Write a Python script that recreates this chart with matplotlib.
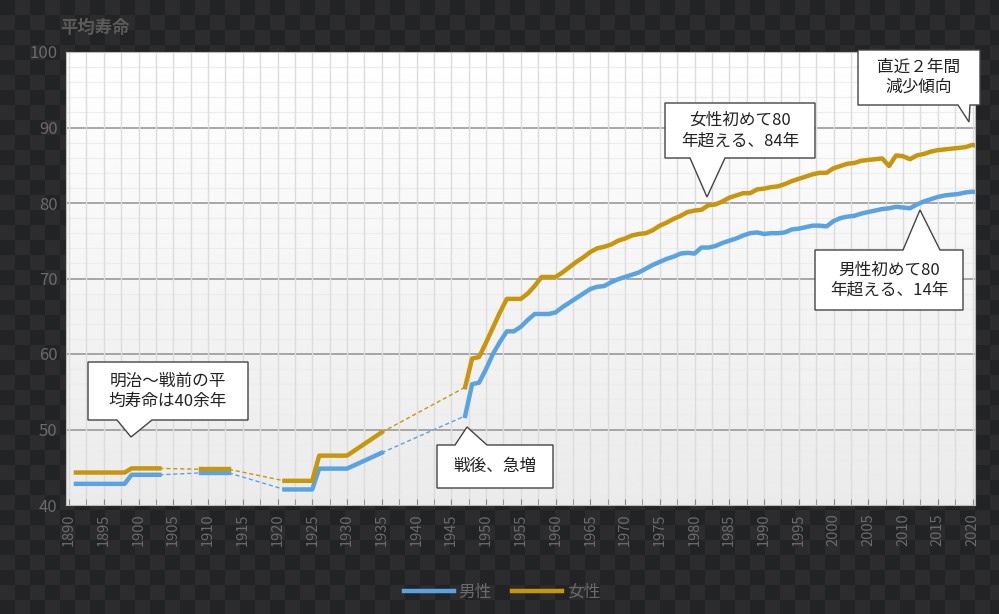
import numpy as np
import matplotlib
matplotlib.use("Agg")
import matplotlib.pyplot as plt
from matplotlib.patches import Polygon

plt.rcParams['font.family'] = ['Noto Sans CJK JP', 'DejaVu Sans']

# ---- data ----
pre_years = [1891, 1898, 1899, 1903, None, 1909, 1913, None, 1921, 1925, 1926, 1930, 1935]
male_pre  = [42.8, 42.8, 44.0, 44.0, None, 44.25, 44.25, None, 42.06, 42.06, 44.82, 44.82, 46.92]
female_pre= [44.3, 44.3, 44.85, 44.85, None, 44.73, 44.73, None, 43.2, 43.2, 46.54, 46.54, 49.63]

post_years = list(range(1947, 2022))
male_post = [51.8, 56.0, 56.2, 58.0, 60.0, 61.6, 63.0, 63.0, 63.6, 64.5, 65.3, 65.3, 65.3, 65.5,
             66.2, 66.8, 67.4, 68.0, 68.6, 68.9, 69.0, 69.5, 69.9, 70.2, 70.5, 70.8, 71.3, 71.8,
             72.2, 72.6, 72.9, 73.3, 73.4, 73.3, 74.1, 74.1, 74.3, 74.7, 75.0, 75.3, 75.7, 76.0,
             76.1, 75.9, 76.0, 76.0, 76.1, 76.5, 76.6, 76.8, 77.0, 77.0, 76.9, 77.6, 78.0, 78.2,
             78.3, 78.6, 78.8, 79.0, 79.2, 79.3, 79.5, 79.4, 79.3, 79.8, 80.2, 80.5, 80.8, 81.0,
             81.1, 81.2, 81.4, 81.5, 81.4]
female_post = [55.6, 59.4, 59.6, 61.5, 63.5, 65.5, 67.3, 67.3, 67.3, 68.0, 69.0, 70.2, 70.2, 70.2,
               70.8, 71.5, 72.2, 72.8, 73.5, 74.0, 74.2, 74.5, 75.0, 75.3, 75.7, 75.9, 76.0, 76.4,
               77.0, 77.4, 77.9, 78.3, 78.8, 79.0, 79.1, 79.7, 79.8, 80.2, 80.7, 81.0, 81.3, 81.3,
               81.8, 81.9, 82.1, 82.2, 82.5, 82.9, 83.2, 83.5, 83.8, 84.0, 84.0, 84.6, 84.9, 85.2,
               85.3, 85.6, 85.7, 85.8, 85.9, 84.9, 86.3, 86.2, 85.8, 86.3, 86.5, 86.8, 87.0, 87.1,
               87.2, 87.3, 87.4, 87.7, 87.5]
x_ticks = list(range(1890, 2021, 5))

BLUE = '#5ba3e0'
GOLD = '#c8960c'

W, H = 999, 614
fig = plt.figure(figsize=(W/100, H/100), dpi=100)

# checkerboard background
sq = 15
yy, xx = np.mgrid[0:H, 0:W]
chk = ((xx // sq + yy // sq) % 2).astype(float)
c1 = np.array([0x22, 0x23, 0x25]) / 255
c2 = np.array([0x2c, 0x2c, 0x2e]) / 255
img = np.where(chk[..., None] > 0, c2, c1)
bg = fig.add_axes([0, 0, 1, 1])
bg.imshow(img, aspect='auto', interpolation='nearest')
bg.axis('off')
bg.set_zorder(-10)

ax = fig.add_axes([66/W, 1-505/H, 909/W, 453/H])
x0, x1 = 1890 - (69-66)/6.95, 1890 + (975-69)/6.95
ax.set_xlim(x0, x1)
ax.set_ylim(40, 100)
ax.imshow(np.linspace(1.0, 0.92, 256)[:, None], cmap='gray', vmin=0, vmax=1,
          extent=[x0, x1, 40, 100], aspect='auto', zorder=0)

# grids
for v in np.arange(42, 100, 2):
    if v % 10:
        ax.axhline(v, color='#ececec', lw=0.8, zorder=1)
for v in range(50, 100, 10):
    ax.axhline(v, color='#999999', lw=1.2, zorder=1)
for v in np.arange(1890, 2021, 2.5):
    ax.axvline(v, color='#dcdcdc', lw=1.0, zorder=1)

for s in ax.spines.values():
    s.set_color('#bbbbbb')
ax.set_xticks(np.arange(1890, 2021, 2.5), minor=True)
ax.set_xticks(x_ticks)
ax.set_xticklabels([str(t) for t in x_ticks], rotation=90, color='#6a6a6a', fontsize=10.5)
ax.set_yticks(range(40, 101, 10))
ax.set_yticklabels([str(t) for t in range(40, 101, 10)], color='#6a6a6a', fontsize=12)
ax.tick_params(axis='x', which='both', direction='in', length=4, color='#888888', pad=6)
ax.tick_params(axis='y', length=0, pad=6)


def segments(xs, ys):
    segs, cur = [], []
    for a, b in zip(xs, ys):
        if a is None:
            segs.append(cur); cur = []
        else:
            cur.append((a, b))
    segs.append(cur)
    return segs


for ys_pre, ys_post, col, lab in [(male_pre, male_post, BLUE, '男性'), (female_pre, female_post, GOLD, '女性')]:
    segs = segments(pre_years, ys_pre)
    segs.append(list(zip(post_years, ys_post)))
    for i, s in enumerate(segs):
        sx, sy = zip(*s)
        ax.plot(sx, sy, color=col, lw=3.2, solid_joinstyle='round', zorder=4,
                label=lab if i == 0 else None)
        if i + 1 < len(segs):
            nx, ny = segs[i+1][0]
            ax.plot([sx[-1], nx], [sy[-1], ny], color=col, lw=1.0, ls=(0, (3, 2)), zorder=3)


def pdat(px, py):
    return (1890 + (px-69)/6.95, 40 + (505-py)/7.55)


def callout(box, ptr, text):
    l, t, r, b = box
    pts = [pdat(*p) for p in ptr]
    poly = Polygon(pts, closed=True, fc='white', ec='#444444', lw=1.0, zorder=6, clip_on=False)
    ax.add_patch(poly)
    cx, cy = pdat((l+r)/2, (t+b)/2)
    ax.text(cx, cy, text, ha='center', va='center', fontsize=12, color='#222222',
            zorder=7, linespacing=1.25, clip_on=False)


callout((88, 362, 248, 420),
        [(88, 362), (248, 362), (248, 420), (152, 420), (131, 437), (117, 420), (88, 420)],
        '明治～戦前の平\n均寿命は40余年')
callout((437, 445, 553, 488),
        [(437, 445), (455, 445), (467, 427), (487, 445), (553, 445), (553, 488), (437, 488)],
        '戦後、急増')
callout((665, 103, 815, 158),
        [(665, 103), (815, 103), (815, 158), (725, 158), (707, 197), (690, 158), (665, 158)],
        '女性初めて80\n年超える、84年')
callout((815, 250, 963, 310),
        [(815, 250), (903, 250), (920, 210), (940, 250), (963, 250), (963, 310), (815, 310)],
        '男性初めて80\n年超える、14年')
callout((858, 50, 980, 105),
        [(858, 50), (980, 50), (980, 105), (970, 105), (969, 122), (958, 105), (858, 105)],
        '直近２年間\n減少傾向')

fig.text(60/W, 1-28/H, '平均寿命', color='#5a5a5a', fontsize=12.5, fontweight='bold',
         ha='left', va='center')

leg = fig.legend(loc='center', bbox_to_anchor=(502/W, 1-592/H), ncol=2, frameon=False,
                 fontsize=12, handlelength=3, columnspacing=1.2, handletextpad=0.3)
for t in leg.get_texts():
    t.set_color('#6a6a6a')

fig.savefig('out.png', dpi=100)
